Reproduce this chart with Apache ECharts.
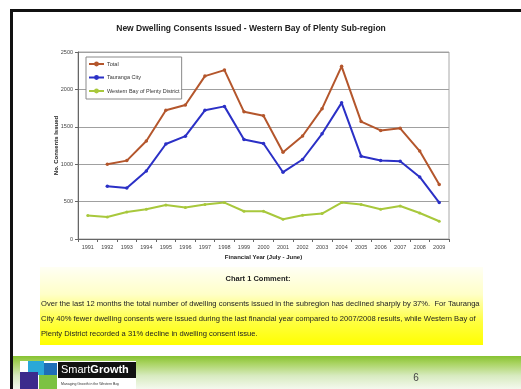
<!DOCTYPE html>
<html>
<head>
<meta charset="utf-8">
<script src="https://cdn.jsdelivr.net/npm/echarts@6/dist/echarts.min.js"></script>
<style>
  html, body { margin: 0; padding: 0; background: #fff; }
  #chart { width: 521px; height: 389px; }
</style>
</head>
<body>
<div id="chart"></div>
<script>
// Financial years (July - June)
const years = ['1991','1992','1993','1994','1995','1996','1997','1998','1999','2000',
               '2001','2002','2003','2004','2005','2006','2007','2008','2009'];

// New dwelling consents issued
const totalConsents    = [null, 1000, 1048, 1310, 1722, 1792, 2178, 2258, 1700, 1648, 1160, 1377, 1742, 2308, 1570, 1452, 1480, 1176, 730];
const taurangaConsents = [null,  705,  683,  910, 1270, 1375, 1720, 1773, 1330, 1277,  893, 1063, 1406, 1820, 1107, 1050, 1040,  830, 487];
const westernConsents  = [ 313,  295,  362,  398,  455,  420,  460,  487,  371,  371,  264,  317,  340,  487,  460,  398,  442,  348, 237];

// Y axis ticks
const yTicks = [0, 500, 1000, 1500, 2000, 2500];

const commentLines = [
  'Over the last 12 months the total number of dwelling consents issued in the subregion has declined sharply by 37%.  For Tauranga',
  'City 40% fewer dwelling consents were issued during the last financial year compared to 2007/2008 results, while Western Bay of',
  'Plenty District recorded a 31% decline in dwelling consent issue.'
];

const FONT = '"Liberation Sans", Arial, sans-serif';
const chart = echarts.init(document.getElementById('chart'), null, { renderer: 'canvas' });

const lineSeries = (name, data, color, size) => ({
  name: name,
  type: 'line',
  data: data,
  symbol: 'circle',
  symbolSize: size,
  showSymbol: true,
  connectNulls: false,
  animation: false,
  lineStyle: { color: color, width: 2 },
  itemStyle: { color: color },
  z: 3
});

const textEl = (text, x, y, font, fill, align) => ({
  type: 'text',
  silent: true,
  style: { text: text, x: x, y: y, font: font, fill: fill, textAlign: align || 'left', textVerticalAlign: 'middle' }
});

chart.setOption({
  backgroundColor: '#ffffff',
  animation: false,
  grid: {
    left: 78, top: 52, width: 371, height: 187,
    show: true, borderColor: '#a8a8a8', borderWidth: 1, backgroundColor: '#ffffff'
  },
  legend: {
    orient: 'vertical',
    left: 86, top: 57,
    backgroundColor: '#ffffff',
    borderColor: '#8a8a8a', borderWidth: 1,
    padding: [4, 2, 5, 2],
    itemWidth: 15, itemHeight: 6, itemGap: 7.5,
    textStyle: { fontFamily: FONT, fontSize: 5.5, color: '#333', padding: [0, 0, 0, -2] },
    data: ['Total', 'Tauranga City', 'Western Bay of Plenty District']
  },
  xAxis: {
    type: 'category',
    data: years,
    boundaryGap: true,
    name: 'Financial Year (July - June)',
    nameLocation: 'middle',
    nameGap: 15,
    nameMoveOverlap: false,
    nameTextStyle: { fontFamily: FONT, fontSize: 6, fontWeight: 'bold', color: '#222' },
    axisLine: { lineStyle: { color: '#666', width: 1 } },
    axisTick: { show: true, length: 3, lineStyle: { color: '#666' } },
    axisLabel: { fontFamily: FONT, fontSize: 5.5, color: '#444', margin: 5, interval: 0 },
    splitLine: { show: false }
  },
  yAxis: {
    type: 'value',
    min: yTicks[0], max: yTicks[yTicks.length - 1], interval: 500,
    name: 'No. Consents Issued',
    nameLocation: 'middle',
    nameGap: 19,
    nameMoveOverlap: false,
    nameTextStyle: { fontFamily: FONT, fontSize: 6, fontWeight: 'bold', color: '#222' },
    axisLine: { show: true, lineStyle: { color: '#666', width: 1 } },
    axisTick: { show: true, length: 3, lineStyle: { color: '#666' } },
    axisLabel: { fontFamily: FONT, fontSize: 5.5, color: '#444', margin: 5, formatter: v => String(v) },
    splitLine: { show: true, lineStyle: { color: '#a0a0a0', width: 1 } }
  },
  series: [
    lineSeries('Total', totalConsents, '#b4562c', 3.5),
    lineSeries('Tauranga City', taurangaConsents, '#2b30c6', 3.5),
    lineSeries('Western Bay of Plenty District', westernConsents, '#a8c83c', 3)
  ],
  graphic: [
    // page frame
    { type: 'rect', silent: true, shape: { x: 10, y: 9, width: 511, height: 3 }, style: { fill: '#111' } },
    { type: 'rect', silent: true, shape: { x: 10, y: 9, width: 3, height: 380 }, style: { fill: '#111' } },

    // chart title
    textEl('New Dwelling Consents Issued - Western Bay of Plenty Sub-region', 251, 29, 'bold 8.5px ' + FONT, '#222', 'center'),

    // comment panel
    {
      type: 'rect', silent: true, z: -1,
      shape: { x: 40, y: 267, width: 443, height: 78 },
      style: {
        fill: new echarts.graphic.LinearGradient(0, 0, 0, 1, [
          { offset: 0, color: '#fffff4' },
          { offset: 0.35, color: '#ffffc8' },
          { offset: 0.7, color: '#ffff40' },
          { offset: 1, color: '#ffff00' }
        ])
      }
    },
    textEl('Chart 1 Comment:', 258, 279, 'bold 7.5px ' + FONT, '#222', 'center'),
    textEl(commentLines[0], 41, 304, '7.6px ' + FONT, '#222'),
    textEl(commentLines[1], 41, 319, '7.6px ' + FONT, '#222'),
    textEl(commentLines[2], 41, 334, '7.6px ' + FONT, '#222'),

    // footer band
    {
      type: 'rect', silent: true,
      shape: { x: 13, y: 356, width: 508, height: 33 },
      style: {
        fill: new echarts.graphic.LinearGradient(0, 0, 0, 1, [
          { offset: 0, color: '#86c232' },
          { offset: 0.2, color: '#a6d25c' },
          { offset: 0.6, color: '#d8ebc0' },
          { offset: 1, color: '#f4f9ee' }
        ])
      }
    },
    textEl('6', 416, 378, '10px ' + FONT, '#444', 'center'),

    // SmartGrowth logo
    { type: 'rect', silent: true, shape: { x: 20, y: 361, width: 116, height: 28 }, style: { fill: '#ffffff' } },
    { type: 'rect', silent: true, shape: { x: 58, y: 362, width: 78, height: 16 }, style: { fill: '#111111' } },
    { type: 'rect', silent: true, shape: { x: 40, y: 363, width: 17, height: 14 }, style: { fill: '#1e6fb8' } },
    { type: 'rect', silent: true, shape: { x: 28, y: 361, width: 16, height: 14 }, style: { fill: '#2aa8d8' } },
    { type: 'rect', silent: true, shape: { x: 20, y: 372, width: 18, height: 17 }, style: { fill: '#3b2b8c' } },
    { type: 'rect', silent: true, shape: { x: 39, y: 375, width: 18, height: 14 }, style: { fill: '#7cc242' } },
    {
      type: 'text', silent: true,
      style: {
        text: '{a|Smart}{b|Growth}', x: 61, y: 370, textVerticalAlign: 'middle',
        rich: {
          a: { fontFamily: FONT, fontSize: 11, fill: '#ffffff' },
          b: { fontFamily: FONT, fontSize: 11, fontWeight: 'bold', fill: '#ffffff' }
        }
      }
    },
    textEl('Managing Growth in the Western Bay', 61, 384, '3.5px ' + FONT, '#333')
  ]
});
</script>
</body>
</html>
